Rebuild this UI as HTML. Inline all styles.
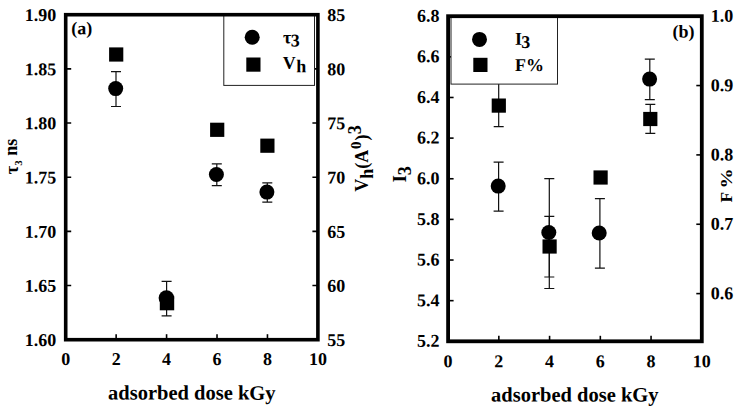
<!DOCTYPE html><html><head><meta charset="utf-8"><style>
html,body{margin:0;padding:0;background:#fff;}
svg{display:block;position:absolute;left:0;top:0;}
text{font-family:"Liberation Serif",serif;font-weight:bold;fill:#000;}
</style></head><body>
<svg width="741" height="412" viewBox="0 0 741 412">
<rect width="741" height="412" fill="#fff"/>
<path d="M116 71.6V106.5M111 71.6H121M111 106.5H121" stroke="#111" stroke-width="1.2" fill="none"/>
<path d="M166.6 281.4V315.9M161.6 281.4H171.6M161.6 315.9H171.6" stroke="#111" stroke-width="1.2" fill="none"/>
<path d="M216.8 163.9V185.7M211.8 163.9H221.8M211.8 185.7H221.8" stroke="#111" stroke-width="1.2" fill="none"/>
<path d="M267.3 182.8V202.2M262.3 182.8H272.3M262.3 202.2H272.3" stroke="#111" stroke-width="1.2" fill="none"/>
<circle cx="115.7" cy="88.6" r="7.5" fill="#000"/>
<rect x="109.1" y="47.4" width="14.2" height="14.2" fill="#000"/>
<rect x="159.8" y="295.9" width="14.4" height="14.4" fill="#000"/>
<circle cx="166.4" cy="298" r="7.8" fill="#000"/>
<circle cx="216.4" cy="174.5" r="7.5" fill="#000"/>
<rect x="210.1" y="122.7" width="14.2" height="14.2" fill="#000"/>
<circle cx="266.9" cy="192.1" r="7.5" fill="#000"/>
<rect x="260.3" y="138.6" width="14.2" height="14.2" fill="#000"/>
<path d="M65.7 68.87h5.5M317.9 68.87h-5.5" stroke="#000" stroke-width="1.6"/>
<path d="M65.7 123.03h5.5M317.9 123.03h-5.5" stroke="#000" stroke-width="1.6"/>
<path d="M65.7 177.2h5.5M317.9 177.2h-5.5" stroke="#000" stroke-width="1.6"/>
<path d="M65.7 231.37h5.5M317.9 231.37h-5.5" stroke="#000" stroke-width="1.6"/>
<path d="M65.7 285.53h5.5M317.9 285.53h-5.5" stroke="#000" stroke-width="1.6"/>
<path d="M116.14 339.7v-5.5" stroke="#000" stroke-width="1.6"/>
<path d="M166.58 339.7v-5.5" stroke="#000" stroke-width="1.6"/>
<path d="M217.02 339.7v-5.5" stroke="#000" stroke-width="1.6"/>
<path d="M267.46 339.7v-5.5" stroke="#000" stroke-width="1.6"/>
<rect x="223.8" y="14" width="90.7" height="71.4" fill="#fff" stroke="#222" stroke-width="1"/>
<circle cx="252.2" cy="37.3" r="7.5" fill="#000"/>
<rect x="246.3" y="57.5" width="14.2" height="14.2" fill="#000"/>
<text transform="translate(283,43.3) matrix(1,0.0005,0,1,0,0)" font-size="18" text-anchor="start" >&#964;<tspan dy="3.2" dx="-0.6">3</tspan></text>
<text transform="translate(282.8,68.8) matrix(1,0.0005,0,1,0,0)" font-size="18" text-anchor="start" >V<tspan dy="3.5" dx="0.4">h</tspan></text>
<rect x="65.7" y="14.7" width="252.2" height="325.0" fill="none" stroke="#000" stroke-width="3.6"/>
<text transform="translate(56.2,21) matrix(1,0.0005,0,1,0,0)" font-size="18" text-anchor="end" >1.90</text>
<text transform="translate(56.2,75.17) matrix(1,0.0005,0,1,0,0)" font-size="18" text-anchor="end" >1.85</text>
<text transform="translate(56.2,129.33) matrix(1,0.0005,0,1,0,0)" font-size="18" text-anchor="end" >1.80</text>
<text transform="translate(56.2,183.5) matrix(1,0.0005,0,1,0,0)" font-size="18" text-anchor="end" >1.75</text>
<text transform="translate(56.2,237.67) matrix(1,0.0005,0,1,0,0)" font-size="18" text-anchor="end" >1.70</text>
<text transform="translate(56.2,291.83) matrix(1,0.0005,0,1,0,0)" font-size="18" text-anchor="end" >1.65</text>
<text transform="translate(56.2,346) matrix(1,0.0005,0,1,0,0)" font-size="18" text-anchor="end" >1.60</text>
<text transform="translate(327.3,21) matrix(1,0.0005,0,1,0,0)" font-size="18" text-anchor="start" >85</text>
<text transform="translate(327.3,75.17) matrix(1,0.0005,0,1,0,0)" font-size="18" text-anchor="start" >80</text>
<text transform="translate(327.3,129.33) matrix(1,0.0005,0,1,0,0)" font-size="18" text-anchor="start" >75</text>
<text transform="translate(327.3,183.5) matrix(1,0.0005,0,1,0,0)" font-size="18" text-anchor="start" >70</text>
<text transform="translate(327.3,237.67) matrix(1,0.0005,0,1,0,0)" font-size="18" text-anchor="start" >65</text>
<text transform="translate(327.3,291.83) matrix(1,0.0005,0,1,0,0)" font-size="18" text-anchor="start" >60</text>
<text transform="translate(327.3,346) matrix(1,0.0005,0,1,0,0)" font-size="18" text-anchor="start" >55</text>
<text transform="translate(65.7,364.9) matrix(1,0.0005,0,1,0,0)" font-size="18" text-anchor="middle" >0</text>
<text transform="translate(116.14,364.9) matrix(1,0.0005,0,1,0,0)" font-size="18" text-anchor="middle" >2</text>
<text transform="translate(166.58,364.9) matrix(1,0.0005,0,1,0,0)" font-size="18" text-anchor="middle" >4</text>
<text transform="translate(217.02,364.9) matrix(1,0.0005,0,1,0,0)" font-size="18" text-anchor="middle" >6</text>
<text transform="translate(267.46,364.9) matrix(1,0.0005,0,1,0,0)" font-size="18" text-anchor="middle" >8</text>
<text transform="translate(317.9,364.9) matrix(1,0.0005,0,1,0,0)" font-size="18" text-anchor="middle" >10</text>
<text transform="translate(71.3,34.3) matrix(1,0.0005,0,1,0,0)" font-size="18" text-anchor="start" >(a)</text>
<text transform="translate(191.8,399.6) matrix(1,0.0005,0,1,0,0)" font-size="20.5" text-anchor="middle" >adsorbed dose kGy</text>
<text transform="translate(17.9,174.2) rotate(-90)" font-size="18.5">&#964;<tspan font-size="11" dy="3.8">3</tspan><tspan dy="-5.2" font-size="18"> ns</tspan></text>
<text transform="translate(368.2,191.7) rotate(-90)" font-size="18">V<tspan dy="4.5">h</tspan><tspan dy="-4.5">(A</tspan><tspan font-size="15" dy="-7.5" dx="0.8">0</tspan><tspan dy="7.5" dx="0.8">)</tspan><tspan dy="-7" dx="0.3">3</tspan></text>
<path d="M498.7 78V126.7M493.7 78H503.7M493.7 126.7H503.7" stroke="#111" stroke-width="1.2" fill="none"/>
<path d="M498.6 162.2V211.2M493.6 162.2H503.6M493.6 211.2H503.6" stroke="#111" stroke-width="1.2" fill="none"/>
<path d="M549.3 178.6V288.5M544.3 178.6H554.3M544.3 288.5H554.3" stroke="#111" stroke-width="1.2" fill="none"/>
<path d="M549.3 216.3V277M544.3 216.3H554.3M544.3 277H554.3" stroke="#111" stroke-width="1.2" fill="none"/>
<path d="M599.9 198.7V268.1M594.9 198.7H604.9M594.9 268.1H604.9" stroke="#111" stroke-width="1.2" fill="none"/>
<path d="M649.8 59.2V99.7M644.8 59.2H654.8M644.8 99.7H654.8" stroke="#111" stroke-width="1.2" fill="none"/>
<path d="M650.3 104.3V133.3M645.3 104.3H655.3M645.3 133.3H655.3" stroke="#111" stroke-width="1.2" fill="none"/>
<rect x="491.7" y="98.5" width="14.2" height="14.2" fill="#000"/>
<circle cx="498.2" cy="186.1" r="7.5" fill="#000"/>
<circle cx="548.8" cy="232.5" r="7.5" fill="#000"/>
<rect x="542.5" y="239.4" width="14.2" height="14.2" fill="#000"/>
<rect x="593.5" y="170.4" width="14.2" height="14.2" fill="#000"/>
<circle cx="599.2" cy="233" r="7.5" fill="#000"/>
<circle cx="649.6" cy="79.1" r="7.5" fill="#000"/>
<rect x="643.2" y="111.9" width="14.2" height="14.2" fill="#000"/>
<path d="M448.1 56.84h5.5" stroke="#000" stroke-width="1.6"/>
<path d="M448.1 97.48h5.5" stroke="#000" stroke-width="1.6"/>
<path d="M448.1 138.11h5.5" stroke="#000" stroke-width="1.6"/>
<path d="M448.1 178.75h5.5" stroke="#000" stroke-width="1.6"/>
<path d="M448.1 219.39h5.5" stroke="#000" stroke-width="1.6"/>
<path d="M448.1 260.03h5.5" stroke="#000" stroke-width="1.6"/>
<path d="M448.1 300.66h5.5" stroke="#000" stroke-width="1.6"/>
<path d="M701.8 85.55h-5.5" stroke="#000" stroke-width="1.6"/>
<path d="M701.8 154.9h-5.5" stroke="#000" stroke-width="1.6"/>
<path d="M701.8 224.25h-5.5" stroke="#000" stroke-width="1.6"/>
<path d="M701.8 293.6h-5.5" stroke="#000" stroke-width="1.6"/>
<path d="M498.84 341.3v-5.5" stroke="#000" stroke-width="1.6"/>
<path d="M549.58 341.3v-5.5" stroke="#000" stroke-width="1.6"/>
<path d="M600.32 341.3v-5.5" stroke="#000" stroke-width="1.6"/>
<path d="M651.06 341.3v-5.5" stroke="#000" stroke-width="1.6"/>
<rect x="451" y="16" width="106.5" height="68.1" fill="#fff" stroke="#222" stroke-width="1"/>
<circle cx="479.5" cy="39.4" r="7.5" fill="#000"/>
<rect x="473.3" y="57.8" width="14.2" height="14.2" fill="#000"/>
<text transform="translate(515,44.8) matrix(1,0.0005,0,1,0,0)" font-size="18" text-anchor="start" >I<tspan dy="3.2" dx="-0.7">3</tspan></text>
<text transform="translate(515,71) matrix(1,0.0005,0,1,0,0)" font-size="18" text-anchor="start" >F%</text>
<rect x="448.1" y="16.2" width="253.69999999999993" height="325.1" fill="none" stroke="#000" stroke-width="3.8"/>
<text transform="translate(439.5,21.7) matrix(1,0.0005,0,1,0,0)" font-size="18" text-anchor="end" >6.8</text>
<text transform="translate(439.5,62.34) matrix(1,0.0005,0,1,0,0)" font-size="18" text-anchor="end" >6.6</text>
<text transform="translate(439.5,102.98) matrix(1,0.0005,0,1,0,0)" font-size="18" text-anchor="end" >6.4</text>
<text transform="translate(439.5,143.61) matrix(1,0.0005,0,1,0,0)" font-size="18" text-anchor="end" >6.2</text>
<text transform="translate(439.5,184.25) matrix(1,0.0005,0,1,0,0)" font-size="18" text-anchor="end" >6.0</text>
<text transform="translate(439.5,224.89) matrix(1,0.0005,0,1,0,0)" font-size="18" text-anchor="end" >5.8</text>
<text transform="translate(439.5,265.53) matrix(1,0.0005,0,1,0,0)" font-size="18" text-anchor="end" >5.6</text>
<text transform="translate(439.5,306.16) matrix(1,0.0005,0,1,0,0)" font-size="18" text-anchor="end" >5.4</text>
<text transform="translate(439.5,346.8) matrix(1,0.0005,0,1,0,0)" font-size="18" text-anchor="end" >5.2</text>
<text transform="translate(710.8,21.8) matrix(1,0.0005,0,1,0,0)" font-size="18" text-anchor="start" >1.0</text>
<text transform="translate(710.8,91.15) matrix(1,0.0005,0,1,0,0)" font-size="18" text-anchor="start" >0.9</text>
<text transform="translate(710.8,160.5) matrix(1,0.0005,0,1,0,0)" font-size="18" text-anchor="start" >0.8</text>
<text transform="translate(710.8,229.85) matrix(1,0.0005,0,1,0,0)" font-size="18" text-anchor="start" >0.7</text>
<text transform="translate(710.8,299.2) matrix(1,0.0005,0,1,0,0)" font-size="18" text-anchor="start" >0.6</text>
<text transform="translate(448.1,367.2) matrix(1,0.0005,0,1,0,0)" font-size="18" text-anchor="middle" >0</text>
<text transform="translate(498.84,367.2) matrix(1,0.0005,0,1,0,0)" font-size="18" text-anchor="middle" >2</text>
<text transform="translate(549.58,367.2) matrix(1,0.0005,0,1,0,0)" font-size="18" text-anchor="middle" >4</text>
<text transform="translate(600.32,367.2) matrix(1,0.0005,0,1,0,0)" font-size="18" text-anchor="middle" >6</text>
<text transform="translate(651.06,367.2) matrix(1,0.0005,0,1,0,0)" font-size="18" text-anchor="middle" >8</text>
<text transform="translate(701.8,367.2) matrix(1,0.0005,0,1,0,0)" font-size="18" text-anchor="middle" >10</text>
<text transform="translate(672.5,37.6) matrix(1,0.0005,0,1,0,0)" font-size="18" text-anchor="start" >(b)</text>
<text transform="translate(574.8,401.5) matrix(1,0.0005,0,1,0,0)" font-size="20.5" text-anchor="middle" >adsorbed dose kGy</text>
<text transform="translate(405.7,182.2) rotate(-90)" font-size="18">I<tspan dy="5">3</tspan></text>
<text transform="translate(732.4,202.4) rotate(-90)" font-size="17.5">F</text>
<text transform="translate(732.4,188.6) rotate(-90) scale(1.15,1)" font-size="17.5">%</text>
</svg></body></html>
